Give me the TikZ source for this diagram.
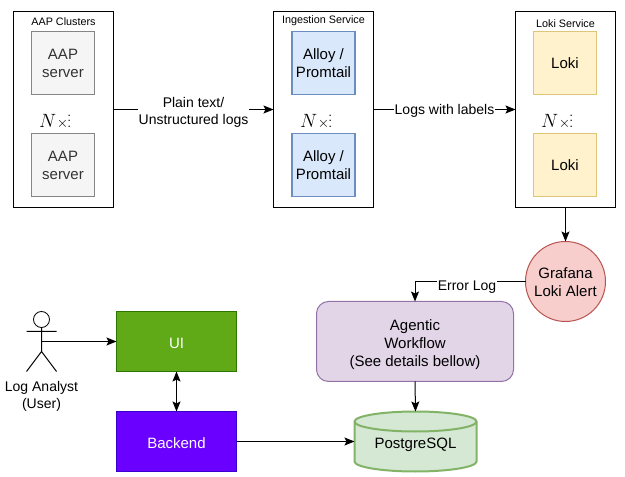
\documentclass[tikz,border=0pt]{standalone}
\usepackage{fontspec}
\setmainfont{Liberation Sans}
\usetikzlibrary{arrows.meta}
\definecolor{grayF}{HTML}{F5F5F5}\definecolor{grayD}{HTML}{666666}\definecolor{grayT}{HTML}{333333}
\definecolor{blueF}{HTML}{DAE8FC}\definecolor{blueD}{HTML}{6C8EBF}
\definecolor{yelF}{HTML}{FFF2CC}\definecolor{yelD}{HTML}{D6B656}
\definecolor{redF}{HTML}{F8CECC}\definecolor{redD}{HTML}{B85450}
\definecolor{purF}{HTML}{E1D5E7}\definecolor{purD}{HTML}{9673A6}
\definecolor{grnF}{HTML}{D5E8D4}\definecolor{grnD}{HTML}{82B366}
\definecolor{uiF}{HTML}{60A917}\definecolor{uiD}{HTML}{2D7600}
\definecolor{beF}{HTML}{6A00FF}\definecolor{beD}{HTML}{3700CC}
\tikzset{
  x=0.75pt,y=-0.75pt,
  px/.style={line width=0.75pt},
  base/.style={px,draw,align=center,inner sep=0pt,outer sep=0pt,font=\fontsize{11.25pt}{13.5pt}\selectfont},
  outerbox/.style={base,draw=black,fill=white,minimum width=75pt,minimum height=147pt},
  inner/.style={base,minimum width=47.25pt,minimum height=47.25pt,line width=0.9pt},
  aapbox/.style={inner,draw=grayD!80,fill=grayF,text=grayT},
  alloybox/.style={inner,draw=blueD,fill=blueF},
  lokibox/.style={inner,draw=yelD!80,fill=yelF},
  title/.style={font=\fontsize{8.1pt}{10pt}\selectfont,inner sep=0pt},
  multi/.style={inner sep=0pt},
  conn/.style={px,draw=black,-{Stealth[length=7.5pt,width=6pt,inset=1.5pt]}},
  dconn/.style={conn,{Stealth[length=7.5pt,width=6pt,inset=1.5pt]}-{Stealth[length=7.5pt,width=6pt,inset=1.5pt]}},
  edgelabel/.style={fill=white,inner sep=0.5pt,align=center,font=\fontsize{10.5pt}{12.75pt}\selectfont},
  plainlabel/.style={inner sep=0pt,align=center,font=\fontsize{10.5pt}{12.75pt}\selectfont},
  wide/.style={base,minimum width=90pt,minimum height=45pt},
}
\newcommand{\dn}[2][1.2pt]{\raisebox{-#1}[\height][\depth]{\begin{tabular}{@{}c@{}}#2\end{tabular}}}
\newcommand{\Nmark}{{\fontsize{13.5pt}{14pt}\selectfont$N$}\kern0.5pt{\fontsize{10.5pt}{11.5pt}\selectfont$\times$}\kern-0.5pt{\fontsize{9pt}{9pt}\selectfont\raisebox{0.5pt}{$\vdots$}}}
\begin{document}
\begin{tikzpicture}
\useasboundingbox (0,0) rectangle (625,477);
% service containers
\node[outerbox] (aap) at (63.5,109.5) {};
\node[outerbox] (ing) at (323.5,109.5) {};
\node[outerbox] (lok) at (565.5,109.5) {};
\node[title] (aapT) at (63.5,22) {AAP Clusters};
\node[title] (ingT) at (323.5,21) {Ingestion Service};
\node[title] (lokT) at (565.5,24) {Loki Service};
\node[aapbox] (aap1) at (63,63) {\dn[1.6pt]{AAP\\server}};
\node[aapbox] (aap2) at (63,165) {\dn[1.6pt]{AAP\\server}};
\node[alloybox] (ing1) at (323.5,63) {\dn[1.6pt]{Alloy /\\Promtail}};
\node[alloybox] (ing2) at (323.5,165) {\dn[1.6pt]{Alloy /\\Promtail}};
\node[lokibox] (lok1) at (565,63) {\dn[1.6pt]{Loki}};
\node[lokibox] (lok2) at (565,165) {\dn[1.6pt]{Loki}};
\node[multi] (n1) at (55,118) {\Nmark};
\node[multi] (n2) at (316,118) {\Nmark};
\node[multi] (n3) at (557,118) {\Nmark};
% lower nodes
\node[base,circle,draw=redD,fill=redF,minimum size=60pt] (alert) at (565.5,281.5) {\dn[1.6pt]{Grafana\\Loki Alert}};
\node[base,rounded corners=9pt,draw=purD,fill=purF,minimum width=147.75pt,minimum height=60pt] (agent) at (415,341.5) {\dn[2.5pt]{Agentic\\Workflow\\(See details bellow)}};
\node[wide,draw=uiD,fill=uiF,text=white] (ui) at (176.5,341.5) {\dn[2.5pt]{UI}};
\node[wide,draw=beD,fill=beF,text=white] (be) at (176.5,441.5) {\dn[2.5pt]{Backend}};
% cylinder
\filldraw[draw=grnD,fill=grnF,line width=1.5pt]
  (354.5,421.5) -- (354.5,461.5) arc[start angle=180,end angle=360,x radius=45.75pt,y radius=7.5pt]
  -- (476.5,421.5) arc[start angle=0,end angle=180,x radius=45.75pt,y radius=7.5pt] -- cycle;
\draw[draw=grnD,line width=1.5pt] (354.5,421.5) arc[start angle=180,end angle=360,x radius=45.75pt,y radius=7.5pt];
\node[inner sep=0pt,outer sep=0pt,minimum width=91.5pt,minimum height=45pt,font=\fontsize{11.25pt}{13.5pt}\selectfont] (pg) at (415.5,441.5) {\dn[2.3pt]{PostgreSQL}};
% actor
\draw[line width=0.6pt] (41.5,319.5) circle[radius=6pt];
\draw[px] (41.5,327.5) -- (41.5,351.5) (26.5,331.5) -- (56.5,331.5) (26.5,371.5) -- (41.5,351.5) -- (56.5,371.5);
\coordinate (actor) at (41.5,341.5);
\node[plainlabel] (actorT) at (41.5,396.5) {Log Analyst\\(User)};
% connectors
\draw[conn] (aap.east) -- node[edgelabel,yshift=-2pt] (l1) {Plain text/\\Unstructured logs} (ing.west);
\draw[conn] (ing.east) -- node[edgelabel,yshift=-1.2pt] (l2) {Logs with labels} (lok.west);
\draw[conn] (lok.south) -- (alert.north);
\draw[conn] (alert.west) -| (agent.north);
\node[edgelabel,minimum height=13pt] (l3) at (467,287.5) {Error Log};
\draw[conn] (actor) -- (ui.west);
\draw[dconn] (ui.south) -- (be.north);
\draw[conn] (be.east) -- (pg.west);
\draw[conn] (agent.south) -- (pg.north);
\end{tikzpicture}
\end{document}
